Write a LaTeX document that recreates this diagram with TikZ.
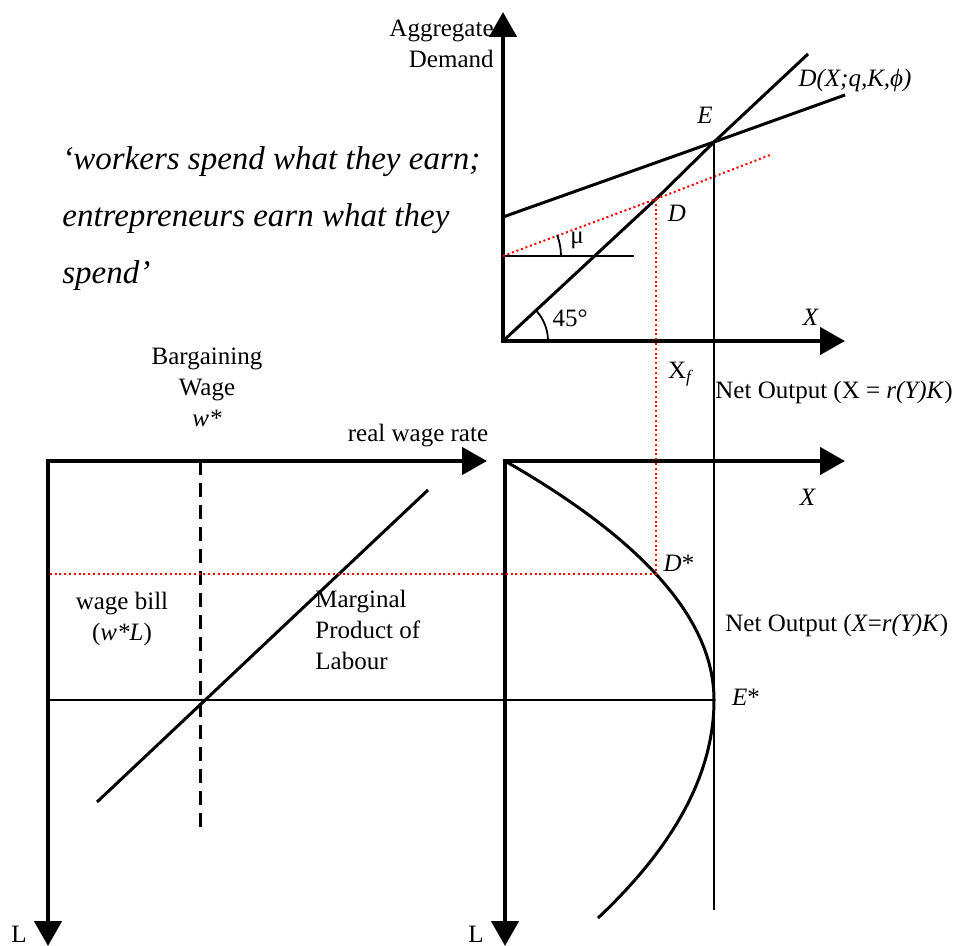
\documentclass[tikz,border=0pt]{standalone}
\usepackage{fontspec}
\setmainfont{Liberation Serif}
\usetikzlibrary{arrows.meta}
\definecolor{guidered}{RGB}{255,0,0}
\newcommand{\lblsize}{\fontsize{12.5}{15.5}\selectfont}
\newcommand{\quotesize}{\fontsize{16.5}{28.5}\selectfont}
\tikzset{
  axes/.style={line width=2.25pt,{Triangle[length=12.5pt,width=13.5pt]}-{Triangle[length=12.5pt,width=13.5pt]}},
  curve/.style={line width=1.5pt},
  rule/.style={line width=0.9pt},
  guide/.style={draw=guidered,line width=1pt,dash pattern=on 1pt off 1.4pt},
  wagebar/.style={line width=1.5pt,dash pattern=on 7pt off 4pt},
  lbl/.style={font=\lblsize,inner sep=0pt,align=center},
}

\begin{document}
\begin{tikzpicture}[x=0.5pt,y=-0.5pt]
  \useasboundingbox (0,0) rectangle (958,946);
  % top panel: aggregate demand against output
  \coordinate (O1) at (503,341); \coordinate (ADtip) at (503,12); \coordinate (Xtip1) at (845,341);
  \coordinate (E) at (714,142); \coordinate (D) at (656,199);
  \coordinate (ADlo) at (503,217); \coordinate (ADhi) at (845,95); \coordinate (diag) at (808,54);
  \coordinate (mu0) at (503,256); \coordinate (muend) at (634,256); \coordinate (redhi) at (770,155);
  \draw[axes] (ADtip) -- (O1) -- (Xtip1);
  \draw[curve] (ADlo) -- (E) -- (ADhi); \draw[curve] (O1) -- (D) -- (E) -- (diag);
  \draw[rule] (mu0) -- (muend);
  \draw[guide] (mu0) -- (D) -- (redhi);
  \draw[rule] (O1) ++(45,0) arc[start angle=0,end angle=-43,radius=45];
  \draw[rule] (mu0) ++(58,0) arc[start angle=0,end angle=-21,radius=58];
  \node[lbl,align=right,anchor=east] (agg) at (494,44) {Aggregate\\Demand};
  \node[lbl] (lE) at (705,115) {\textit{E}};
  \node[lbl] (lD) at (677,213) {\textit{D}};
  \node[lbl] (ldem) at (855,80) {\textit{D(X;q,K,ϕ)}};
  \node[lbl] (lX1) at (811,317) {\textit{X}};
  \node[lbl] (lmu) at (577,240) {μ};
  \node[lbl] (l45) at (570,318) {45°};
  \node[lbl] (lXf) at (681,374) {X\textsubscript{\textit{f}}};
  \node[lbl,anchor=west] (net1) at (715,392) {Net Output (X = \textit{r(Y)K})};
  \node[font=\quotesize,inner sep=0pt,align=left,anchor=west] (quote) at (62,219)
    {\textit{‘workers spend what they earn;}\\\textit{entrepreneurs earn what they}\\\textit{spend’}};
  % bottom left: labour market
  \coordinate (O2) at (48,461); \coordinate (wtip) at (487,461); \coordinate (Ltip2) at (48,946);
  \coordinate (wtop) at (200,461); \coordinate (wbot) at (200,828);
  \coordinate (mpllo) at (97,802); \coordinate (mplhi) at (428,490);
  \coordinate (red2) at (48,574); \coordinate (emp) at (48,700);
  \draw[axes] (wtip) -- (O2) -- (Ltip2);
  \draw[wagebar] (wtop) -- (wbot);
  \draw[curve] (mpllo) -- (mplhi);
  \node[lbl] (barg) at (207,387) {Bargaining\\Wage\\\textit{w*}};
  \node[lbl] (rwr) at (418,436) {real wage rate};
  \node[lbl] (bill) at (122,619) {wage bill\\(\textit{w*L})};
  \node[lbl,align=left,anchor=west] (mpl) at (315,630) {Marginal\\Product of\\Labour};
  \node[lbl] (L1) at (19,934) {L};
  % bottom right: output against labour
  \coordinate (O3) at (505,461); \coordinate (Xtip3) at (845,461); \coordinate (Ltip3) at (505,946);
  \coordinate (Dstar) at (656,574); \coordinate (Estar) at (714,700); \coordinate (netend) at (598,918);
  \coordinate (Ebot) at (714,910);
  \draw[axes] (Ltip3) -- (O3) -- (Xtip3);
  \draw[curve] (O3) .. controls (644.3,540.7) and (714,620.3) .. (Estar)
    .. controls (714,772.7) and (675.3,845.3) .. (netend);
  \draw[rule] (E) -- (Ebot);
  \draw[rule] (emp) -- (Estar);
  \draw[guide] (D) -- (Dstar) -- (red2);
  \node[lbl] (lX3) at (808,497) {\textit{X}};
  \node[lbl] (lDs) at (679,563) {\textit{D}*};
  \node[lbl] (lEs) at (746,697) {\textit{E}*};
  \node[lbl,anchor=west] (net2) at (725,625) {Net Output (\textit{X}=\textit{r(Y)K})};
  \node[lbl] (L3) at (476,934) {L};
\end{tikzpicture}
\end{document}
